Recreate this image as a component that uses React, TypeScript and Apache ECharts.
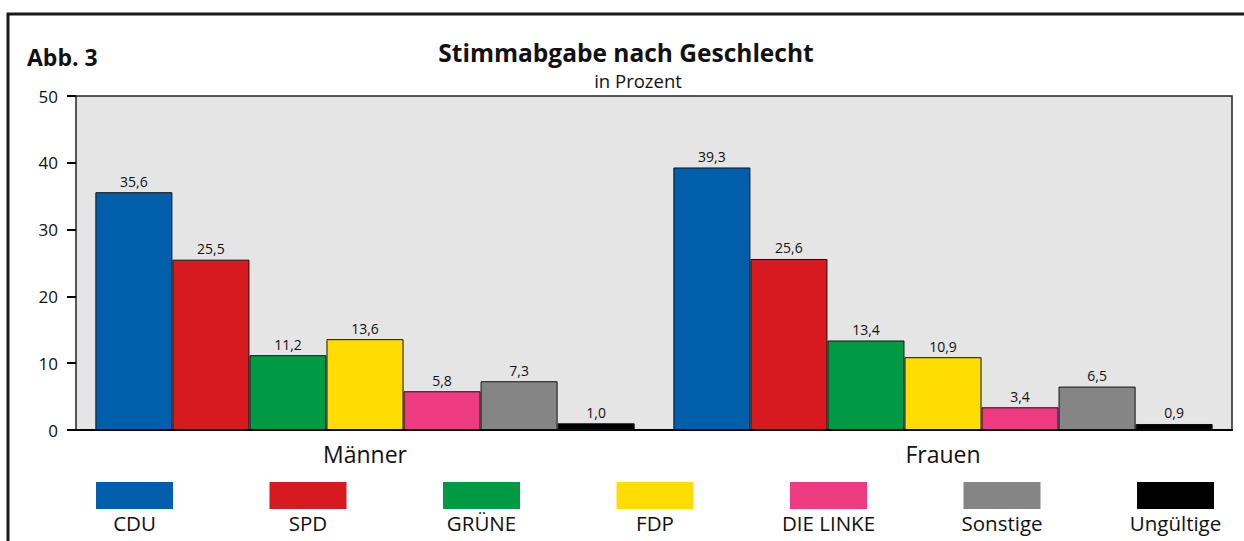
import React, { useEffect, useRef } from "react";
import * as echarts from "echarts";

const categories = ["Männer", "Frauen"];
const parties = ["CDU", "SPD", "GRÜNE", "FDP", "DIE LINKE", "Sonstige", "Ungültige"];
const colors = ["#005EAA", "#D71920", "#009A44", "#FFDD00", "#EE3A80", "#858585", "#000000"];
const maenner = [35.6, 25.5, 11.2, 13.6, 5.8, 7.3, 1.0];
const frauen = [39.3, 25.6, 13.4, 10.9, 3.4, 6.5, 0.9];
const yTicks = [0, 10, 20, 30, 40, 50];

const FONT = "'Open Sans', 'Noto Sans', sans-serif";

export default function App() {
  const ref = useRef<HTMLDivElement>(null);
  useEffect(() => {
    document.body.style.margin = "0";
    if (!ref.current) return;
    const chart = echarts.init(ref.current, null, { renderer: "svg" });
    const series = parties.map((p, i) => ({
      name: p,
      type: "bar",
      data: [maenner[i], frauen[i]],
      barGap: "0%",
      barCategoryGap: "6.7%",
      itemStyle: { color: colors[i], borderColor: "#111", borderWidth: 1 },
      label: {
        show: true,
        position: "top",
        distance: 4,
        fontSize: 14,
        fontFamily: FONT,
        color: "#111",
        formatter: (v: any) => v.value.toFixed(1).replace(".", ","),
      },
    }));
    const legendGraphics: any[] = [];
    parties.forEach((p, i) => {
      const x = 96 + i * 173.5;
      legendGraphics.push({
        type: "rect",
        shape: { x, y: 482, width: 77, height: 27 },
        style: { fill: colors[i] },
      });
      legendGraphics.push({
        type: "text",
        x: x + 38.5,
        y: 523,
        style: {
          text: p,
          fontSize: 20.5,
          fontFamily: FONT,
          fill: "#111",
          textAlign: "center",
          textVerticalAlign: "middle",
        },
      });
    });
    chart.setOption({
      animation: false,
      grid: {
        left: 76,
        top: 96,
        right: 12,
        bottom: 111,
        show: true,
        backgroundColor: "#E5E5E5",
        borderColor: "#222",
        borderWidth: 1.5,
      },
      xAxis: {
        type: "category",
        data: categories,
        axisLine: { show: true, lineStyle: { color: "#000", width: 2 } },
        axisTick: { show: false },
        axisLabel: { fontSize: 23, fontFamily: FONT, color: "#111", margin: 12 },
      },
      yAxis: {
        type: "value",
        min: yTicks[0],
        max: yTicks[yTicks.length - 1],
        interval: 10,
        axisLine: { show: false },
        axisTick: { show: true, length: 9, lineStyle: { color: "#000", width: 2 } },
        splitLine: { show: false },
        axisLabel: { fontSize: 17, fontFamily: FONT, color: "#111", margin: 18 },
      },
      series,
      graphic: [
        {
          type: "rect",
          shape: { x: 8, y: 14, width: 1260, height: 560 },
          style: { fill: "none", stroke: "#1a1a1a", lineWidth: 3 },
          silent: true,
        },
        {
          type: "text",
          x: 27,
          y: 57,
          style: {
            text: "Abb. 3",
            fontSize: 23,
            fontWeight: "bold",
            fontFamily: FONT,
            fill: "#111",
            textVerticalAlign: "middle",
          },
        },
        {
          type: "text",
          x: 626,
          y: 52,
          style: {
            text: "Stimmabgabe nach Geschlecht",
            fontSize: 24.5,
            fontWeight: "bold",
            fontFamily: FONT,
            fill: "#111",
            textAlign: "center",
            textVerticalAlign: "middle",
          },
        },
        {
          type: "text",
          x: 638,
          y: 80,
          style: {
            text: "in Prozent",
            fontSize: 18.5,
            fontFamily: FONT,
            fill: "#111",
            textAlign: "center",
            textVerticalAlign: "middle",
          },
        },
        ...legendGraphics,
      ],
    });
    return () => chart.dispose();
  }, []);
  return <div ref={ref} style={{ width: 1244, height: 541 }} />;
}
